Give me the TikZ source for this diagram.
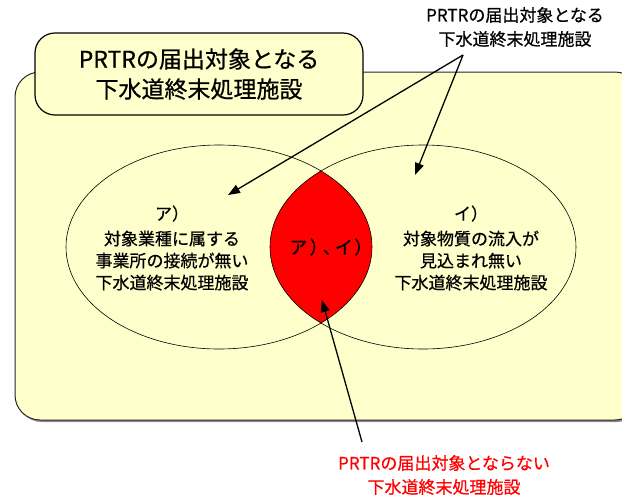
\documentclass[tikz,border=0pt]{standalone}
\usepackage{fontspec}
\setmainfont{Noto Sans CJK JP}[FakeBold=0.6]
\newfontfamily\paltfont{Noto Sans CJK JP}[FakeBold=0.6,RawFeature=+palt,LetterSpace=20]
\usetikzlibrary{shapes.geometric,arrows.meta}
\definecolor{boxyellow}{HTML}{FFFFCC}
\begin{document}
\begin{tikzpicture}[x=1pt,y=-1pt,
  venn/.style={draw=black, line width=0.6pt, ellipse, minimum width=306pt, minimum height=204pt, inner sep=0pt},
  callout/.style={draw=black, line width=1.3pt, -{Triangle[length=12pt,width=9pt]}},
  bodytext/.style={font=\fontsize{17}{22}\selectfont, align=center, inner sep=0pt},
  labeltext/.style={font=\fontsize{17}{24}\selectfont, align=center, inner sep=0pt},
]
\useasboundingbox (0,0) rectangle (622,499);
\begin{scope}
  \clip (0,0) rectangle (622,499);
  \fill[black!45] (17,74) [rounded corners=25pt] rectangle (642,422);
  \draw[fill=boxyellow, draw=black!85, line width=1pt, rounded corners=25pt] (15,72) rectangle (640,420);
\end{scope}
\node[draw=black, line width=1.2pt, fill=boxyellow, rounded corners=20pt, minimum width=328pt, minimum height=82pt, align=center, font=\fontsize{23}{30}\selectfont] (title) at (199,74) {PRTRの届出対象となる\\下水道終末処理施設};
% lens
\begin{scope}
  \clip (219,247) ellipse [x radius=153pt, y radius=102pt];
  \fill[red] (423,247) ellipse [x radius=153pt, y radius=102pt];
\end{scope}
\node[venn] (A) at (219,247) {};
\node[venn] (B) at (423,247) {};
\node[bodytext] (Atext) at (172,248) {ア）\\[3pt]対象業種に属する\\事業所の接続が無い\\下水道終末処理施設};
\node[bodytext] (Btext) at (471,248) {イ）\\[3pt]対象物質の流入が\\見込まれ無い\\下水道終末処理施設};
\node[bodytext, font=\fontsize{18}{22}\paltfont] (AB) at (327,247) {ア）、イ）};
\node[labeltext] (top) at (515,27) {PRTRの届出対象となる\\下水道終末処理施設};
\node[labeltext, text=red] (bottom) at (444,475) {PRTRの届出対象とならない\\下水道終末処理施設};
\coordinate (fork) at (463,55);
\coordinate (tipA) at (228,195);
\coordinate (tipB) at (415,175);
\coordinate (tail) at (362,442);
\coordinate (tipAB) at (322,300);
\draw[callout] (fork) -- (tipA);
\draw[callout] (fork) -- (tipB);
\draw[callout] (tail) -- (tipAB);
\end{tikzpicture}
\end{document}
